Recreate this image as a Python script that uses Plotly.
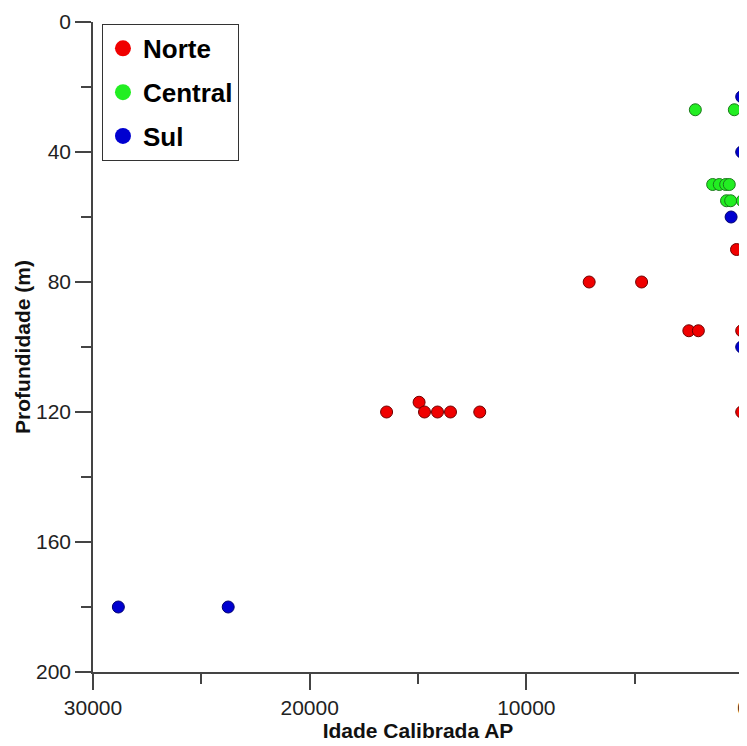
import plotly.graph_objects as go

# Data
norte_x = [16450, 14950, 14700, 14100, 13500, 12150, 7100, 4680, 2500, 2060, 300, 60, 60]
norte_y = [120, 117, 120, 120, 120, 120, 80, 80, 95, 95, 70, 95, 120]

central_x = [2200, 400, 1400, 1095, 800, 633, 760, 570, 30]
central_y = [27, 27, 50, 50, 50, 50, 55, 55, 55]

sul_x = [60, 60, 550, 60, 28830, 23760]
sul_y = [23, 40, 60, 100, 180, 180]

x_ticks = [30000, 20000, 10000, 0]
y_ticks = [0, 40, 80, 120, 160, 200]

series = [
    ("Norte", norte_x, norte_y, "#f00000", "#700000"),
    ("Central", central_x, central_y, "#22ee22", "#1a7a1a"),
    ("Sul", sul_x, sul_y, "#0000d0", "#000070"),
]

fig = go.Figure()
for name, xs, ys, fill, edge in series:
    fig.add_trace(go.Scatter(
        x=xs, y=ys, mode="markers", name=name, showlegend=False,
        cliponaxis=False,
        marker=dict(size=12, color=fill, line=dict(color=edge, width=1)),
    ))
for name, xs, ys, fill, edge in series:
    fig.add_trace(go.Scatter(
        x=[None], y=[None], mode="markers", name=name, legendgroup=name,
        marker=dict(size=17, color=fill, line=dict(width=0)),
    ))

axis_common = dict(
    showgrid=False, zeroline=False, showline=True, linecolor="#444444", linewidth=1.5,
    ticks="outside", ticklen=16, tickwidth=1.5, tickcolor="#444444",
    tickfont=dict(family="Liberation Sans, Arial", size=21, color="#222222"),
    mirror=False, automargin=False,
)

fig.update_xaxes(
    range=[30000, 0], tickvals=x_ticks, ticktext=[str(v) for v in x_ticks],
    minor=dict(dtick=5000, ticklen=10, tickwidth=1.5, tickcolor="#444444", ticks="outside"),
    title=dict(text="<b>Idade Calibrada AP</b>", standoff=0,
               font=dict(family="Liberation Sans, Arial", size=21, color="#111111")),
    **axis_common,
)
fig.update_yaxes(
    range=[200, 0], tickvals=y_ticks, ticktext=[str(v) for v in y_ticks],
    minor=dict(dtick=20, ticklen=10, tickwidth=1.5, tickcolor="#444444", ticks="outside"),
    title=dict(text="<b>Profundidade (m)</b>", standoff=0,
               font=dict(family="Liberation Sans, Arial", size=21, color="#111111")),
    **axis_common,
)

fig.update_layout(
    width=747, height=746,
    margin=dict(l=85, r=12, t=14, b=82),
    plot_bgcolor="white", paper_bgcolor="white",
    legend=dict(
        x=0.0138, y=0.997, xanchor="left", yanchor="top",
        bgcolor="white", bordercolor="#333333", borderwidth=1,
        font=dict(family="Liberation Sans, Arial", size=26, color="#000000", weight="bold"),
        tracegroupgap=7, itemsizing="trace",
    ),
)

fig.write_html("out.html")
